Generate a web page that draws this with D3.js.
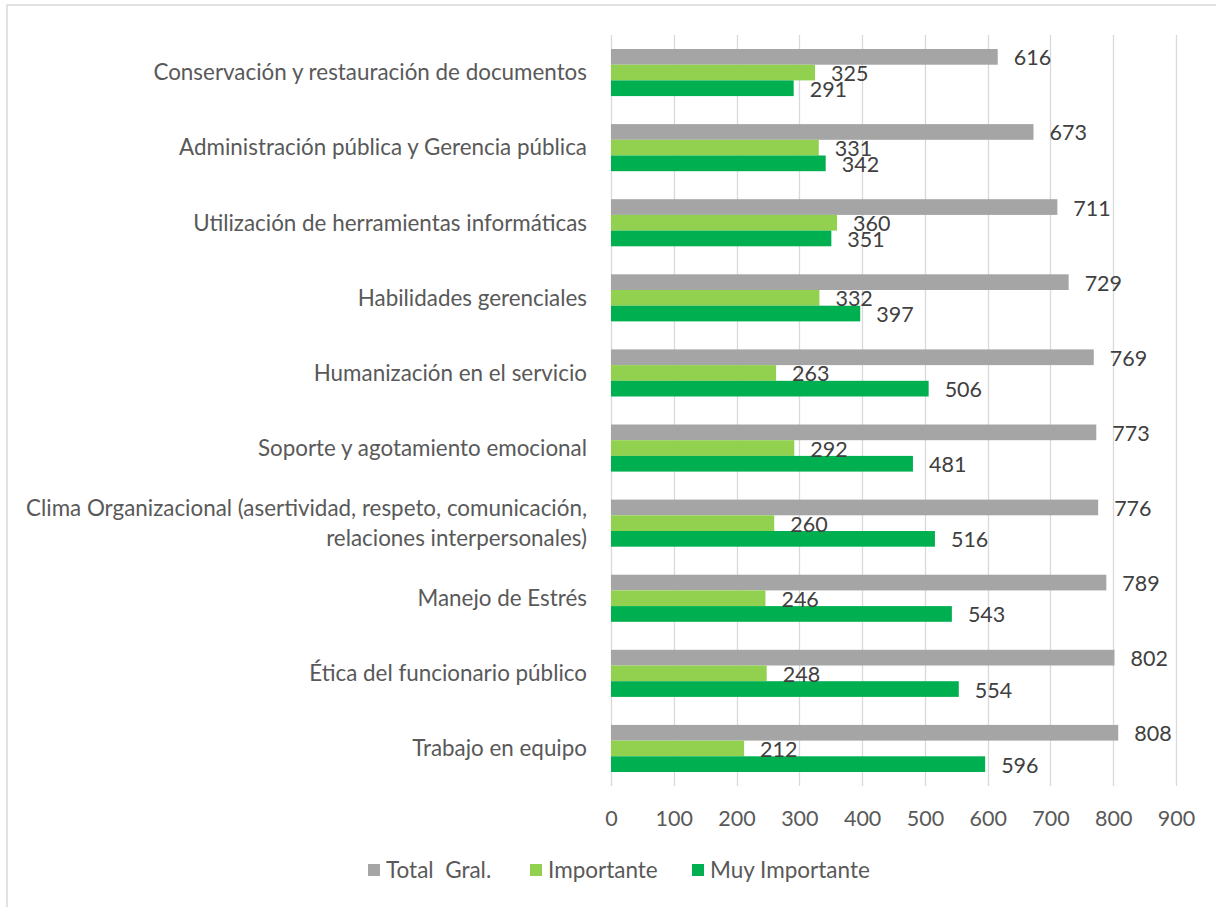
<!DOCTYPE html>
<html>
<head>
<meta charset="utf-8">
<script src="https://cdn.jsdelivr.net/npm/d3@7"></script>
<style>
html,body{margin:0;padding:0;background:#fff;}
svg{display:block;}
text{font-family:"Lato","Open Sans",sans-serif;}
</style>
</head>
<body>
<svg id="chart" width="1216" height="907"></svg>
<script>
const categories = [
  ["Conservación y restauración de documentos"],
  ["Administración pública y Gerencia pública"],
  ["Utilización de herramientas informáticas"],
  ["Habilidades gerenciales"],
  ["Humanización en el servicio"],
  ["Soporte y agotamiento emocional"],
  ["Clima Organizacional (asertividad, respeto, comunicación,", "relaciones interpersonales)"],
  ["Manejo de Estrés"],
  ["Ética del funcionario público"],
  ["Trabajo en equipo"]
];
const totalGral   = [616, 673, 711, 729, 769, 773, 776, 789, 802, 808];
const importante  = [325, 331, 360, 332, 263, 292, 260, 246, 248, 212];
const muyImportante = [291, 342, 351, 397, 506, 481, 516, 543, 554, 596];
const seriesNames = ["Total  Gral.", "Importante", "Muy Importante"];
const seriesColors = ["#A5A5A5", "#92D050", "#00B050"];
const tickValues = [0, 100, 200, 300, 400, 500, 600, 700, 800, 900];

(function () {
const seriesData = [totalGral, importante, muyImportante];
const svg = d3.select("#chart");

svg.append("rect").attr("x", 7).attr("y", 5).attr("width", 1220).attr("height", 920)
  .attr("fill", "none").attr("stroke", "#D9D9D9").attr("stroke-width", 1.5);

const pLeft = 611, pRight = 1176, pTop = 35, pBottom = 786;
const x = d3.scaleLinear().domain([0, 900]).range([pLeft, pRight]);
const y = d3.scaleBand().domain(d3.range(categories.length)).range([pTop, pBottom]).paddingInner(0.373).paddingOuter(0.1865);
const ySub = d3.scaleBand().domain([0, 1, 2]).range([0, y.bandwidth()]);

svg.append("g").selectAll("line").data(tickValues).join("line")
  .attr("x1", d => Math.round(x(d)) + 0.5).attr("x2", d => Math.round(x(d)) + 0.5)
  .attr("y1", pTop).attr("y2", pBottom)
  .attr("stroke", "#D9D9D9").attr("stroke-width", 1.3);

const xAxis = d3.axisBottom(x).tickValues(tickValues).tickSize(0).tickPadding(0);
const gx = svg.append("g").attr("transform", `translate(0,${pBottom + 32})`).call(xAxis);
gx.select(".domain").remove();
gx.selectAll("text").attr("fill", "#595959").attr("font-size", 21.5)
  .attr("dy", "0.35em").attr("y", 0)
  .style("font-family", '"Lato","Open Sans",sans-serif');

const groups = svg.append("g").selectAll("g").data(categories).join("g")
  .attr("transform", (d, i) => `translate(0,${y(i)})`);
seriesData.forEach((vals, s) => {
  groups.append("rect")
    .attr("x", x(0))
    .attr("y", ySub(s))
    .attr("width", (d, i) => x(vals[i]) - x(0))
    .attr("height", ySub.bandwidth())
    .attr("fill", seriesColors[s]);
});
seriesData.forEach((vals, s) => {
  groups.append("text")
    .attr("x", (d, i) => x(vals[i]) + 16)
    .attr("y", ySub(s) + ySub.bandwidth() / 2 + 1)
    .attr("dy", "0.35em")
    .attr("fill", "#404040")
    .attr("font-size", 21.5)
    .text((d, i) => vals[i]);
});

const catG = svg.append("g");
categories.forEach((lines, i) => {
  const cy = y(i) + y.bandwidth() / 2;
  const lh = 30;
  const t = catG.append("text").attr("text-anchor", "end").attr("fill", "#595959").attr("font-size", 22.4);
  lines.forEach((ln, j) => {
    t.append("tspan").attr("x", 587)
      .attr("y", cy + (j - (lines.length - 1) / 2) * lh)
      .attr("dy", "0.35em").text(ln);
  });
});

const legendX = [368, 530, 692];
const lg = svg.append("g");
seriesNames.forEach((n, s) => {
  lg.append("rect").attr("x", legendX[s]).attr("y", 864).attr("width", 12).attr("height", 12).attr("fill", seriesColors[s]);
  lg.append("text").attr("x", legendX[s] + 18).attr("y", 870).attr("dy", "0.35em")
    .attr("fill", "#595959").attr("font-size", 22.5).style("white-space", "pre").attr("xml:space", "preserve").text(n);
});
})();
</script>
</body>
</html>
